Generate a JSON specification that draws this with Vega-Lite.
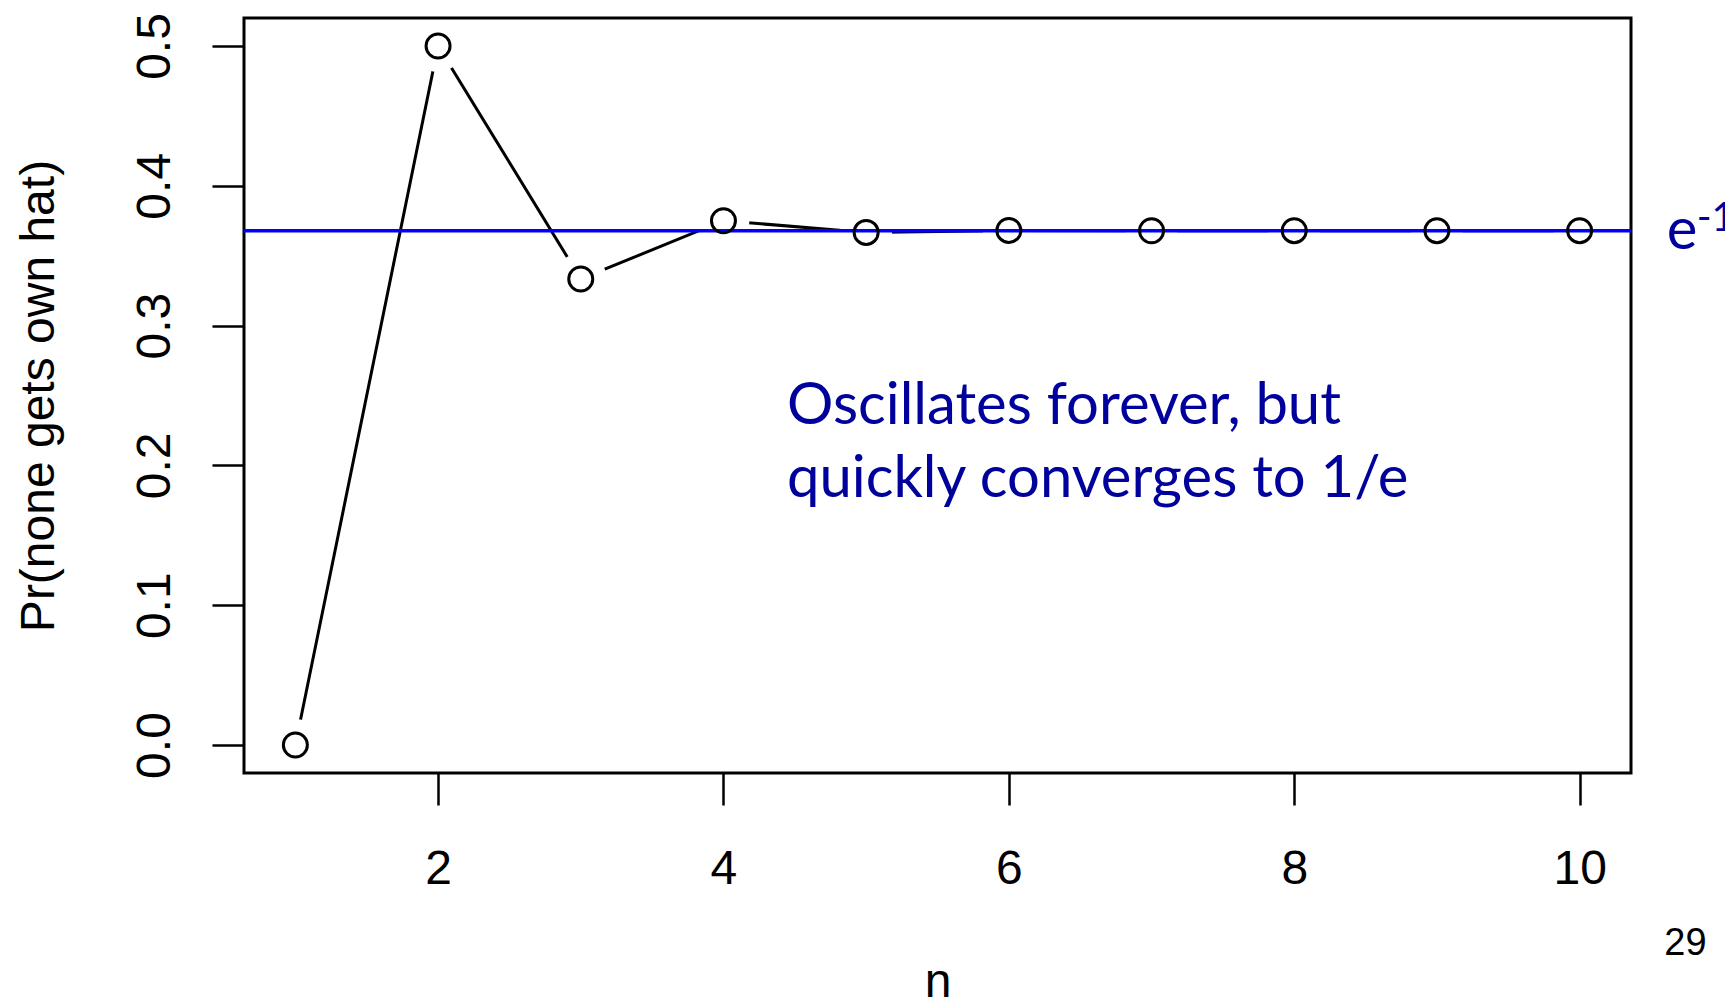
{
  "$schema": "https://vega.github.io/schema/vega-lite/v6.json",
  "width": 1387,
  "height": 755,
  "autosize": {"type": "none"},
  "padding": {"left": 244, "top": 18, "right": 94, "bottom": 232},
  "background": "white",
  "config": {
    "view": {"stroke": "black", "strokeWidth": 3},
    "axis": {
      "domain": false,
      "grid": false,
      "tickSize": 32,
      "tickWidth": 2.5,
      "tickColor": "black",
      "labelFont": "Liberation Sans",
      "labelFontSize": 48,
      "labelColor": "black",
      "labelFlush": false,
      "labelOverlap": false,
      "titleFont": "Liberation Sans",
      "titleFontSize": 48,
      "titleFontWeight": "normal",
      "titleColor": "black"
    }
  },
  "datasets": {
    "hat": [
      {"n": 1, "p": 0.0},
      {"n": 2, "p": 0.5},
      {"n": 3, "p": 0.333333},
      {"n": 4, "p": 0.375},
      {"n": 5, "p": 0.366667},
      {"n": 6, "p": 0.368056},
      {"n": 7, "p": 0.367857},
      {"n": 8, "p": 0.367882},
      {"n": 9, "p": 0.367879},
      {"n": 10, "p": 0.367879}
    ]
  },
  "layer": [
    {
      "data": {"name": "hat"},
      "mark": {"type": "line", "color": "black", "strokeWidth": 3},
      "encoding": {
        "x": {
          "field": "n", "type": "quantitative",
          "scale": {"domain": [0.64, 10.36], "nice": false, "zero": false},
          "axis": {"title": "n", "values": [2, 4, 6, 8, 10], "format": "d", "labelPadding": 40, "titlePadding": 65}
        },
        "y": {
          "field": "p", "type": "quantitative",
          "scale": {"domain": [-0.02, 0.52], "nice": false, "zero": false},
          "axis": {
            "title": "Pr(none gets own hat)",
            "values": [0, 0.1, 0.2, 0.3, 0.4, 0.5],
            "format": ".1f",
            "labelAngle": -90,
            "labelAlign": "center",
            "labelBaseline": "bottom",
            "labelPadding": 33,
            "titlePadding": 68
          }
        }
      }
    },
    {
      "data": {"name": "hat"},
      "mark": {"type": "point", "shape": "circle", "filled": true, "color": "white", "opacity": 1, "size": 2700, "strokeWidth": 0},
      "encoding": {
        "x": {"field": "n", "type": "quantitative"},
        "y": {"field": "p", "type": "quantitative"}
      }
    },
    {
      "data": {"values": [{"p": 0.367879}]},
      "mark": {"type": "rule", "color": "#0000FF", "strokeWidth": 3.6},
      "encoding": {
        "y": {"field": "p", "type": "quantitative"}
      }
    },
    {
      "data": {"name": "hat"},
      "mark": {"type": "point", "shape": "circle", "filled": false, "color": "black", "opacity": 1, "size": 576, "strokeWidth": 3},
      "encoding": {
        "x": {"field": "n", "type": "quantitative"},
        "y": {"field": "p", "type": "quantitative"}
      }
    },
    {
      "data": {"values": [{"n": 4.445, "p": 0.2293, "label": "Oscillates forever, but\nquickly converges to 1/e"}]},
      "mark": {"type": "text", "font": "Lato", "fontSize": 58, "color": "#00009C", "align": "left", "baseline": "alphabetic", "lineBreak": "\n", "lineHeight": 73},
      "encoding": {
        "x": {"field": "n", "type": "quantitative"},
        "y": {"field": "p", "type": "quantitative"},
        "text": {"field": "label"}
      }
    },
    {
      "data": {"values": [{"n": 10.61, "p": 0.3545, "label": "e"}]},
      "mark": {"type": "text", "font": "Lato", "fontSize": 58, "color": "#00009C", "align": "left", "baseline": "alphabetic"},
      "encoding": {
        "x": {"field": "n", "type": "quantitative"},
        "y": {"field": "p", "type": "quantitative"},
        "text": {"field": "label"}
      }
    },
    {
      "data": {"values": [{"n": 10.82, "p": 0.368, "label": "-1"}]},
      "mark": {"type": "text", "font": "Lato", "fontSize": 40, "color": "#00009C", "align": "left", "baseline": "alphabetic"},
      "encoding": {
        "x": {"field": "n", "type": "quantitative"},
        "y": {"field": "p", "type": "quantitative"},
        "text": {"field": "label"}
      }
    },
    {
      "data": {"values": [{"n": 10.89, "p": -0.1505, "label": "29"}]},
      "mark": {"type": "text", "font": "Liberation Sans", "fontSize": 38, "color": "black", "align": "right", "baseline": "alphabetic"},
      "encoding": {
        "x": {"field": "n", "type": "quantitative"},
        "y": {"field": "p", "type": "quantitative"},
        "text": {"field": "label"}
      }
    }
  ]
}
